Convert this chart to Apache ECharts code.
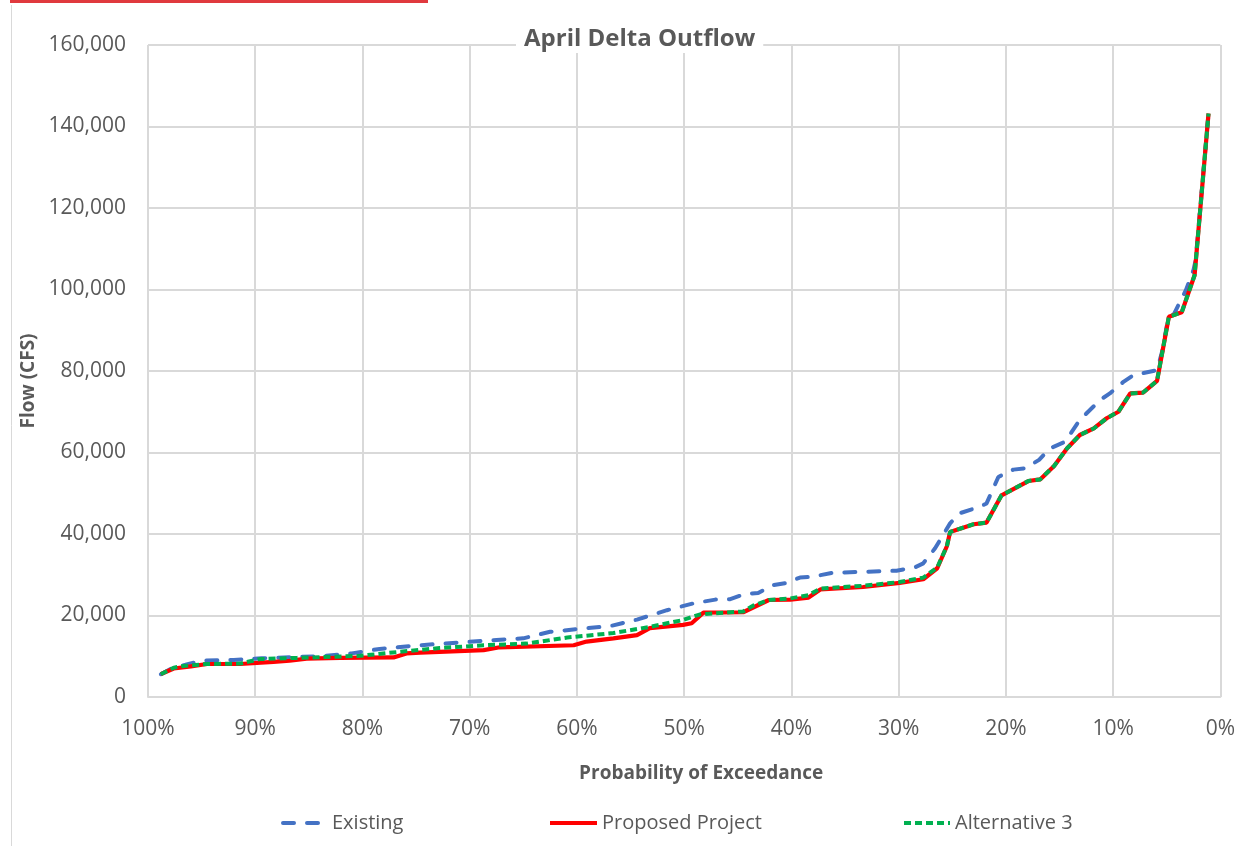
<!DOCTYPE html>
<html>
<head>
<meta charset="utf-8">
<title>April Delta Outflow</title>
<script src="https://cdn.jsdelivr.net/npm/echarts@6/dist/echarts.min.js"></script>
<style>
  html, body { margin: 0; padding: 0; background: #fff; }
  #chart { width: 1238px; height: 846px; }
</style>
</head>
<body>
<div id="chart"></div>
<script>
// probability of exceedance (%) , flow (cfs)
var existing = [
  [98.8, 5600], [97.6, 7300], [96.5, 7900], [95.0, 8900], [92.0, 9100], [89.4, 9500],
  [86.5, 9800], [84.0, 10000], [81.0, 10700], [78.4, 11800], [75.6, 12500], [73.1, 13000],
  [70.3, 13500], [67.5, 14000], [65.0, 14400], [62.5, 16000], [59.4, 16800], [56.9, 17400],
  [54.4, 19000], [51.6, 21300], [49.1, 23000], [47.1, 23900], [45.7, 24000], [44.3, 25300],
  [43.1, 25500], [41.8, 27400], [40.6, 27900], [39.2, 29300], [38.1, 29500], [36.1, 30500],
  [33.3, 30700], [30.2, 31000], [28.5, 31800], [27.7, 32800], [26.6, 36500], [25.2, 42600],
  [24.3, 45100], [22.4, 46700], [21.8, 47500], [20.7, 54000], [19.3, 55800], [18.2, 56100],
  [16.9, 58200], [15.9, 61000], [14.5, 62600], [13.1, 68000], [11.2, 72900], [10.3, 74500],
  [9.0, 77400], [8.1, 79000], [5.9, 80200], [5.4, 85000], [4.9, 92500], [4.3, 94100],
  [3.2, 99900], [2.5, 104800], [2.3, 107200], [1.1, 143200]
]
var proposed = [
  [98.8, 5600], [97.6, 7000], [96.0, 7500], [94.5, 8100], [91.4, 8100], [88.3, 8600],
  [86.8, 8900], [85.2, 9400], [82.1, 9600], [77.1, 9700], [75.9, 10700], [74.6, 10900],
  [68.7, 11500], [67.2, 12200], [60.3, 12700], [59.1, 13600], [56.6, 14400], [54.4, 15200],
  [53.2, 16900], [50.1, 17700], [49.3, 18100], [48.2, 20700], [44.5, 20800], [42.1, 23800],
  [40.1, 23900], [38.4, 24400], [37.3, 26400], [33.3, 27000], [29.9, 28000], [27.7, 28900],
  [26.4, 31600], [25.5, 37000], [25.2, 40500], [23.0, 42400], [21.8, 42800], [20.4, 49500],
  [17.9, 53000], [16.8, 53400], [15.5, 56700], [14.3, 61000], [13.1, 64300], [11.8, 65900],
  [10.6, 68400], [9.5, 70000], [8.4, 74500], [7.2, 74700], [5.9, 77600], [4.8, 93300],
  [3.6, 94400], [2.4, 103500], [1.1, 143200]
]
var alternative3 = [
  [98.8, 5600], [97.6, 7200], [96.7, 7600], [94.5, 8100], [91.4, 8200], [89.6, 9300],
  [86.1, 9600], [80.2, 10100], [76.5, 11100], [72.8, 12000], [68.7, 12700], [64.7, 13100],
  [60.9, 14600], [56.6, 15700], [53.2, 17200], [50.1, 18900], [48.5, 20300], [44.5, 21000],
  [43.5, 22500], [42.1, 23800], [40.1, 24200], [38.4, 25000], [37.3, 26600], [33.3, 27300],
  [29.9, 28200], [27.7, 29300], [26.4, 31800], [25.5, 37000], [25.2, 40500], [23.0, 42400],
  [21.8, 42800], [20.4, 49500], [17.9, 53000], [16.8, 53400], [15.5, 56700], [14.3, 61000],
  [13.1, 64300], [11.8, 65900], [10.6, 68400], [9.5, 70000], [8.4, 74500], [7.2, 74700],
  [5.9, 77600], [4.8, 93300], [3.6, 94400], [2.4, 103500], [1.1, 143200]
]
var seriesNames = ['Existing', 'Proposed Project', 'Alternative 3']

var font = 'Open Sans'
var grey = '#595959'
var gridColor = '#d9d9d9'

// one legend per item so the spacing can follow the original
function legendAt (name, left, width) {
  return {
    data: [name], left: left, top: 808, itemWidth: width, itemHeight: 14,
    itemStyle: { opacity: 0 },
    lineStyle: { width: 4 },
    textStyle: { fontFamily: font, fontSize: 20, color: grey }
  }
}

var chart = echarts.init(document.getElementById('chart'))
chart.setOption({
  backgroundColor: '#fff',
  animation: false,
  title: {
    text: 'April Delta Outflow',
    left: 516,
    top: 25,
    padding: [2, 8],
    backgroundColor: '#fff',
    textStyle: { fontFamily: font, fontSize: 24, fontWeight: 'bold', color: grey }
  },
  grid: { left: 148, right: 17, top: 45, bottom: 149 },
  legend: [
    legendAt(seriesNames[0], 276, 44),
    legendAt(seriesNames[1], 543, 47),
    legendAt(seriesNames[2], 897, 46)
  ],
  xAxis: {
    type: 'value',
    inverse: true,
    min: 0,
    max: 100,
    interval: 10,
    name: 'Probability of Exceedance',
    nameLocation: 'middle',
    nameGap: 67,
    nameTextStyle: { fontFamily: font, fontSize: 19, fontWeight: 'bold', color: grey, padding: [0, 0, 0, 34] },
    axisLine: { show: true, lineStyle: { color: gridColor, width: 2 } },
    axisTick: { show: false },
    axisLabel: { formatter: '{value}%', margin: 22, fontFamily: font, fontSize: 21, color: grey },
    splitLine: { show: true, lineStyle: { color: gridColor, width: 2 } }
  },
  yAxis: {
    type: 'value',
    min: 0,
    max: 160000,
    interval: 20000,
    name: 'Flow (CFS)',
    nameLocation: 'middle',
    nameGap: 104,
    nameTextStyle: { fontFamily: font, fontSize: 19, fontWeight: 'bold', color: grey, padding: [0, 20, 0, 0] },
    axisLine: { show: false },
    axisTick: { show: false },
    axisLabel: {
      margin: 22, fontFamily: font, fontSize: 21, color: grey,
      formatter: function (v) { return v.toLocaleString('en-US') }
    },
    splitLine: { show: true, lineStyle: { color: gridColor, width: 2 } }
  },
  series: [
    {
      name: seriesNames[0], type: 'line', data: existing, symbol: 'none', z: 2,
      itemStyle: { color: '#4472c4' },
      lineStyle: { color: '#4472c4', width: 4, type: [11, 13], cap: 'round' }
    },
    {
      name: seriesNames[1], type: 'line', data: proposed, symbol: 'none', z: 3,
      itemStyle: { color: '#ff0000' },
      lineStyle: { color: '#ff0000', width: 4.2 }
    },
    {
      name: seriesNames[2], type: 'line', data: alternative3, symbol: 'none', z: 4,
      itemStyle: { color: '#00b050' },
      lineStyle: { color: '#00b050', width: 4, type: [7, 4] }
    }
  ],
  graphic: [
    { type: 'rect', shape: { x: 10, y: 0, width: 418, height: 3 }, style: { fill: '#e0393e' } },
    { type: 'line', shape: { x1: 11.5, y1: 5, x2: 11.5, y2: 846 }, style: { stroke: gridColor, lineWidth: 1 } }
  ]
})
</script>
</body>
</html>
